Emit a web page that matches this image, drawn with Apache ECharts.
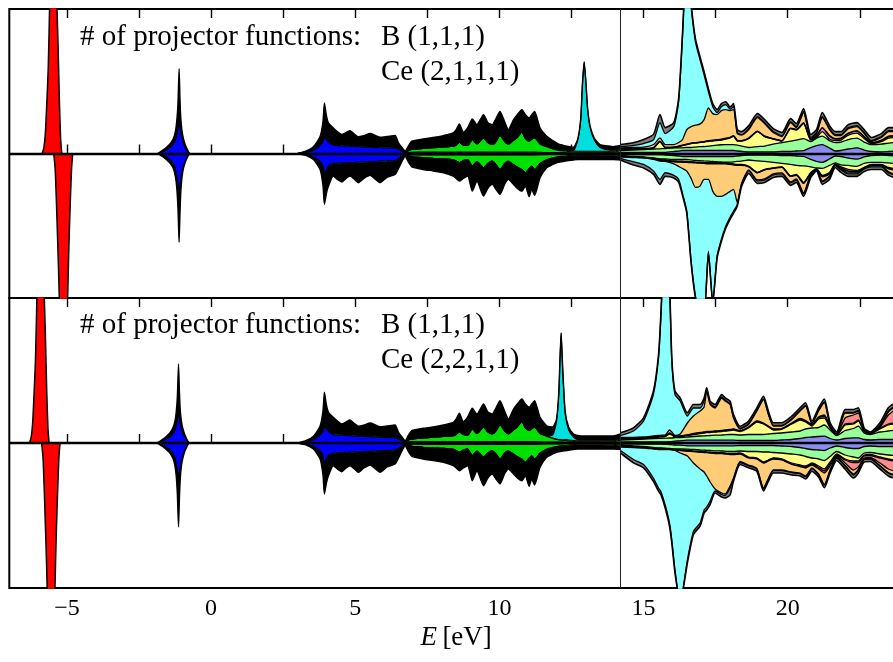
<!DOCTYPE html>
<html><head><meta charset="utf-8">
<script src="https://cdn.jsdelivr.net/npm/echarts@6/dist/echarts.min.js"></script>
<style>html,body{margin:0;padding:0;background:#fff}#c{width:893px;height:662px}</style>
</head><body><div id="c"></div>
<script>
// ---------- axes / labels ----------
const XMIN = -7, XMAX = 24, YLIM = 14.5, EF = 14.2;
const tickValues = [-5, -2.5, 0, 2.5, 5, 7.5, 10, 12.5, 15, 17.5, 20, 22.5];
const labelValues = [-5, 0, 5, 10, 15, 20];
const noteLead = '# of projector functions:';
const noteB = 'B (1,1,1)';
const noteCeTop = 'Ce (2,1,1,1)';
const noteCeBot = 'Ce (2,2,1,1)';

// ---------- semicore red peaks (edge heights) ----------
const topRedUpE = [-5.86,-5.80,-5.75,-5.70,-5.65,-5.60,-5.54,-5.48,-5.42,-5.36,-5.31,-5.26,-5.22,-5.18];
const topRedUp  = [0,0.6,2.0,5.0,8.5,15,26,35,26,16,11,5,1.5,0];
const topRedDnE = [-5.46,-5.41,-5.37,-5.32,-5.27,-5.20,-5.12,-5.04,-4.98,-4.93,-4.88,-4.84,-4.80];
const topRedDn  = [0,1.5,4.5,9,14,25,35,25,15,9,4.5,1.5,0];
const botRedUpE = [-6.30,-6.24,-6.19,-6.14,-6.09,-6.04,-5.98,-5.92,-5.86,-5.80,-5.75,-5.70,-5.66,-5.62];
const botRedUp  = [0,0.6,2.0,5.0,8.5,15,26,35,26,16,11,5,1.5,0];
const botRedDnE = [-5.88,-5.83,-5.79,-5.74,-5.69,-5.63,-5.56,-5.48,-5.42,-5.37,-5.32,-5.28,-5.24];
const botRedDn  = [0,1.5,4.5,9,14,25,35,25,15,9,4.5,1.5,0];

// ---------- semicore blue peak (edge heights) ----------
const topSemiE = [-1.85,-1.75,-1.62,-1.50,-1.40,-1.31,-1.24,-1.19,-1.15,-1.11,-1.08,-1.05,-1.01,-0.96,-0.90,-0.84,-0.78,-0.74];
const topSemiUpTotal = [0,0.2,0.45,0.75,1.05,1.5,2.2,3.3,5.0,8.5,5.5,3.5,2.3,1.5,0.9,0.5,0.15,0];
const topSemiUpBlue  = [0,0.1,0.25,0.45,0.65,0.95,1.3,1.8,2.5,3.1,2.6,2.0,1.5,1.0,0.6,0.3,0.1,0];
const topSemiDnTotal = [0,0.2,0.45,0.75,1.05,1.5,2.3,3.5,5.5,8.9,6.0,3.8,2.4,1.5,0.9,0.5,0.15,0];
const topSemiDnBlue  = [0,0.1,0.25,0.45,0.7,1.0,1.5,2.2,3.0,3.9,3.2,2.5,1.8,1.2,0.7,0.35,0.1,0];
const botSemiE = [-1.87,-1.77,-1.64,-1.52,-1.42,-1.33,-1.26,-1.21,-1.17,-1.13,-1.10,-1.07,-1.03,-0.98,-0.92,-0.86,-0.80,-0.76];
const botSemiUpTotal = [0,0.2,0.45,0.75,1.05,1.5,2.1,3.1,4.7,7.9,5.2,3.3,2.2,1.45,0.9,0.5,0.15,0];
const botSemiUpBlue  = [0,0.1,0.25,0.45,0.65,0.9,1.25,1.7,2.3,2.85,2.4,1.85,1.4,0.95,0.6,0.3,0.1,0];
const botSemiDnTotal = [0,0.2,0.45,0.75,1.05,1.5,2.2,3.3,5.2,8.4,5.6,3.6,2.3,1.5,0.9,0.5,0.15,0];
const botSemiDnBlue  = [0,0.1,0.25,0.45,0.7,1.0,1.4,2.0,2.7,3.4,2.9,2.3,1.7,1.15,0.7,0.35,0.1,0];

// ---------- valence band (layer thicknesses, stacked) ----------
const valE = [3.0,3.3,3.55,3.78,3.88,3.93,4.0,4.07,4.24,4.38,
 4.53,4.68,4.82,4.97,5.11,5.3,5.52,5.7,5.86,6.1,
 6.38,6.5,6.62,6.73,6.85,6.96,7.36,7.7,8.06,8.4,
 8.5,8.61,8.75,8.9,9.06,9.22,9.45,9.6,9.75,9.88,
 10.02,10.18,10.31,10.49,10.62,10.78,10.9,11.03,11.12,11.22,
 11.41,11.64,11.85,11.98,12.06,12.14,12.2,12.28,12.4,12.57,
 12.72,12.82,12.88,12.94,13.0,13.06,13.15,13.3,13.49,13.75,
 13.95,14.2];
const valUpBlue = [0,.1,.33,.8,1.2,1.67,1.4,1.15,.83,.8,
 .78,.75,.72,.7,.67,.65,.62,.6,.58,.55,
 .53,.4,.25,.1,.12,.13,.14,.15,.15,.15,
 .15,.15,.15,.15,.15,.15,.15,.15,.15,.15,
 .15,.15,.15,.15,.15,.15,.15,.15,.15,.15,
 .12,.1,.1,.1,.1,.1,.09,.08,.06,.05,
 .05,.05,.05,.05,.05,.05,.05,.05,.05,.05,
 .05,.1];
const valUpGreen = [0,.05,.12,.12,.12,.13,.12,.12,.12,.12,
 .12,.12,.12,.12,.12,.12,.12,.12,.12,.12,
 .12,.12,.1,.05,.18,.27,.36,.43,.5,.57,
 .7,.98,.7,.65,1.25,.8,1.42,.95,.75,1.05,
 1.65,1.05,.75,1.15,1.45,1.98,1.35,1.08,1.25,1.42,
 .83,.57,.35,.25,.2,.18,.17,.17,.14,.1,
 .07,.07,.07,.07,.07,.07,.07,.07,.07,.07,
 .07,.2];
const valUpOrange = [0,0,0,0,0,0,0,0,0,0,
 0,0,0,0,0,0,0,0,0,0,
 0,0,0,0,0,0,0,0,0,0,
 0,0,0,0,0,0,0,0,0,0,
 .03,.03,.03,.03,.03,.03,.03,.03,.03,.03,
 .03,.05,.05,.05,.05,.05,.05,.1,.1,.1,
 .1,.1,.1,.1,.1,.1,.1,.1,.1,.1,
 .1,.1];
const topValUpCyan = [0,0,0,0,0,0,0,0,0,0,
 0,0,0,0,0,0,0,0,0,0,
 0,0,0,0,0,0,0,0,0,0,
 0,0,0,0,0,0,0,0,0,0,
 0,0,0,0,0,0,0,0,0,0,
 0,0,0,0,0,0,0,0,0,.05,
 1.13,3.13,6.68,8.88,6.88,4.18,2.33,1.08,.38,.15,
 .1,.1];
const topValUpBlack = [0,.1,.22,.78,1.88,3.27,2.28,1.8,1.62,1.28,
 1.0,1.23,1.46,1.13,.88,1.03,1.26,1.08,.93,1.03,
 1.15,.55,.25,.08,.5,.83,.97,1.02,1.15,1.35,
 1.55,1.84,1.28,1.8,2.07,1.95,2.33,2.0,2.0,2.3,
 2.4,1.97,1.47,2.07,2.27,2.24,2.37,2.31,2.47,2.63,
 1.59,1.01,.8,.67,.6,.55,.52,.42,.4,.32,
 .15,.15,.1,.1,.1,.1,.15,.2,.3,.4,
 .37,.3];
const botValUpCyan = [0,0,0,0,0,0,0,0,0,0,
 0,0,0,0,0,0,0,0,0,0,
 0,0,0,0,0,0,0,0,0,0,
 0,0,0,0,0,0,0,0,0,0,
 0,0,0,0,0,0,0,0,0,0,
 0,0,.3,1.7,4.5,10.6,6.7,2.6,1.0,.35,
 .1,.08,.08,.08,.08,.08,.08,.08,.08,.08,
 .08,.1];
const botValUpBlack = [0,.1,.22,.78,1.88,3.27,2.28,1.8,1.62,1.28,
 1.0,1.23,1.46,1.13,.88,1.03,1.26,1.08,.93,1.03,
 1.15,.55,.25,.08,.5,.83,.97,1.02,1.15,1.35,
 1.55,1.84,1.28,1.8,2.07,1.95,2.33,2.0,2.0,2.3,
 2.4,1.97,1.47,2.07,2.27,2.24,2.37,2.31,2.47,2.63,
 1.59,1.01,.8,.3,.25,.1,.2,.25,.3,.3,
 .43,.4,.4,.4,.4,.4,.4,.4,.4,.4,
 .4,.4];
const valDnBlue = [0,.1,.33,.77,1.3,2.1,1.6,1.2,1.0,.97,
 .95,.93,.91,.89,.87,.85,.82,.8,.77,.74,
 .7,.5,.27,.1,.15,.15,.15,.15,.15,.15,
 .15,.15,.15,.15,.15,.15,.15,.15,.15,.15,
 .15,.15,.15,.15,.15,.15,.15,.15,.15,.15,
 .12,.1,.1,.1,.1,.1,.1,.08,.06,.05,
 .05,.05,.05,.05,.05,.05,.05,.05,.05,.05,
 .05,.1];
const valDnGreen = [0,.05,.12,.12,.12,.12,.12,.12,.12,.12,
 .12,.12,.12,.12,.12,.12,.12,.12,.12,.12,
 .12,.12,.1,.05,.1,.18,.27,.33,.37,.47,
 .6,.78,.55,.45,1.12,.65,1.28,.85,.62,.95,
 1.45,.85,.62,.95,1.2,1.45,1.78,1.35,1.12,1.45,
 .88,.5,.32,.25,.2,.18,.17,.17,.14,.1,
 .07,.07,.07,.07,.07,.07,.07,.07,.07,.07,
 .07,.1];
const valDnOrange = [0,0,0,0,0,0,0,0,0,0,
 0,0,0,0,0,0,0,0,0,0,
 0,0,0,0,0,0,0,0,0,0,
 0,0,0,0,0,0,0,0,0,0,
 .03,.03,.03,.03,.03,.03,.03,.03,.03,.03,
 .03,.05,.05,.05,.05,.05,.05,.1,.1,.1,
 .1,.1,.1,.1,.1,.1,.1,.1,.1,.1,
 .1,.1];
const valDnCyan = [0,0,0,0,0,0,0,0,0,0,
 0,0,0,0,0,0,0,0,0,0,
 0,0,0,0,0,0,0,0,0,0,
 0,0,0,0,0,0,0,0,0,0,
 0,0,0,0,0,0,0,0,0,0,
 0,0,0,0,0,0,0,0,0,.03,
 .03,.03,.03,.03,.03,.03,.03,.03,.03,.08,
 .08,.08];
const valDnBlack = [0,.05,.15,.71,1.78,2.88,2.28,1.95,1.15,1.51,
 1.8,1.45,1.24,1.59,1.94,1.53,1.26,1.68,2.04,1.54,
 1.28,.88,.43,.12,.65,1.0,1.18,1.27,1.41,1.65,
 1.75,1.84,1.8,1.67,2.5,1.97,2.84,2.5,2.33,2.5,
 2.47,2.07,1.8,1.97,2.12,2.14,1.31,2.8,2.3,2.57,
 1.4,.78,.63,.53,.53,.51,.48,.42,.42,.37,
 .35,.35,.35,.35,.35,.35,.35,.35,.35,.3,
 .3,.27];

// ---------- conduction band, top panel (band edge heights) ----------
const topConE = [14.2,14.6,15.0,15.35,15.57,15.75,16.05,16.22,16.35,16.5,16.65,16.8,16.95,17.1,17.25,17.4,17.55,17.7,17.85,18.0,18.12,18.25,18.4,
 18.65,18.95,19.2,19.5,19.8,20.1,20.3,20.55,20.8,21.0,21.2,21.45,21.65,21.85,22.1,22.4,22.65,22.9,23.25,23.5,23.75,24.0];
const topUpViolet = [.1,.1,.1,.12,.12,.12,.2,.25,.3,.3,.3,.3,.3,.3,.3,.3,.3,.3,.3,.3,.3,.25,.2,
 .15,.15,.15,.15,.2,.2,.25,.3,.6,.8,.9,.55,.25,.3,.45,.57,.35,.2,.15,.2,.25,.2];
const topUpGreen = [.3,.35,.4,.45,.47,.5,.57,.57,.57,.6,.6,.65,.68,.7,.73,.8,.85,.88,.9,.9,.9,.85,.75,
 .6,.7,.75,.95,1.1,1.25,1.35,1.5,1.2,1.55,1.75,1.3,1.1,1.15,1.4,1.55,1.15,.9,.95,1.05,1.1,1.0];
const topUpYellow = [.4,.42,.45,.55,1.2,.58,.6,.7,.8,.9,1.0,1.05,1.1,1.15,1.23,1.25,1.3,1.35,1.45,1.55,1.73,1.25,1.25,
 1.5,2.2,1.7,1.45,1.25,2.5,2.35,3.0,1.35,1.6,2.2,1.45,1.3,1.35,1.85,2.05,1.5,1.0,1.2,1.55,1.6,1.45];
const topUpMagenta = [.42,.44,.47,.57,1.22,.6,.62,.72,.82,.92,1.02,1.07,1.12,1.17,1.27,1.3,1.35,1.4,1.5,1.6,1.77,1.3,1.28,
 1.52,2.22,1.72,1.47,1.27,2.52,2.4,3.05,1.4,1.75,2.55,1.75,1.45,1.5,2.0,2.25,1.65,1.05,1.3,1.7,1.75,1.6];
const topUpSalmon = [.45,.46,.5,.6,1.25,.62,.65,.75,.85,.95,1.05,1.1,1.15,1.2,1.3,1.33,1.38,1.43,1.53,1.63,1.8,1.33,1.3,
 1.55,2.25,1.75,1.5,1.3,2.55,2.42,3.1,1.42,1.8,2.6,1.8,1.5,1.55,2.05,2.3,1.7,1.07,1.35,1.75,1.8,1.65];
const topUpOrange = [.55,.6,.63,.9,1.57,.9,.9,1.1,1.4,2.4,2.7,2.85,2.95,3.4,4.57,4.0,3.9,4.3,4.4,4.3,4.4,2.0,1.85,
 2.4,3.6,3.0,2.1,1.7,3.1,2.6,4.1,1.5,2.0,3.6,2.4,1.8,1.8,2.5,2.7,2.0,1.2,1.6,2.2,2.2,1.9];
const topUpCyan = [.7,.8,1.0,1.4,3.1,2.0,2.7,5.3,11.7,19.7,14.7,11.2,9.5,7.9,6.2,4.7,4.1,4.7,4.9,4.45,4.7,2.1,1.9,
 2.5,3.7,3.1,2.2,1.8,3.2,2.7,4.2,1.6,2.1,3.7,2.5,1.9,1.9,2.6,2.8,2.1,1.3,1.7,2.3,2.3,2.0];
const topUpGray = [.9,1.05,1.4,1.95,3.9,2.6,3.1,5.6,12,20,15,11.5,9.8,8.2,6.5,5.0,4.4,5.0,5.2,4.65,5.0,2.4,2.2,
 2.8,4.0,3.4,2.5,2.1,3.5,3.0,4.5,1.9,2.4,4.1,2.8,2.2,2.2,2.9,3.1,2.4,1.6,2.0,2.6,2.6,2.3];
const topDnViolet = [.1,.1,.1,.12,.12,.15,.2,.25,.3,.3,.3,.3,.3,.3,.3,.3,.3,.3,.3,.3,.3,.25,.2,
 .15,.15,.15,.15,.2,.2,.25,.3,.6,.8,.9,.55,.25,.3,.45,.57,.35,.2,.15,.2,.25,.2];
const topDnGreen = [.2,.3,.35,.45,.53,.55,.6,.6,.6,.6,.65,.7,.72,.75,.77,.8,.83,.85,.87,.87,.85,.8,.77,
 .65,.75,.8,.9,1.0,1.1,1.2,1.25,1.35,1.45,1.5,1.2,.95,1.15,1.2,1.3,1.0,.9,.9,.95,1.0,1.0];
const topDnYellow = [.25,.33,.38,.5,.6,.65,.75,.77,.78,.8,.82,.85,.87,.9,.93,.93,.93,.93,.93,1.0,1.05,1.1,1.1,
 1.3,1.9,1.6,1.45,1.35,2.25,2.1,2.9,1.9,1.52,2.2,1.9,1.05,1.35,1.6,1.7,1.4,1.1,1.1,1.4,1.5,1.4];
const topDnMagenta = [.27,.35,.4,.52,.65,.7,.8,.82,.83,.85,.87,.9,.92,.95,.98,.98,.98,.98,.98,1.05,1.1,1.15,1.15,
 1.32,1.92,1.62,1.47,1.37,2.27,2.15,2.95,1.95,1.56,2.3,2.0,1.08,1.45,1.75,1.8,1.42,1.15,1.15,1.5,1.6,1.5];
const topDnSalmon = [.3,.37,.41,.54,.7,.72,.85,.87,.88,.9,.92,.95,.97,1.0,1.03,1.03,1.03,1.03,1.03,1.1,1.15,1.2,1.2,
 1.35,1.95,1.65,1.5,1.4,2.3,2.2,3.0,1.98,1.58,2.35,2.05,1.1,1.48,1.8,1.85,1.44,1.18,1.2,1.55,1.65,1.55];
const topDnOrange = [.33,.4,.43,.6,.77,.8,1.05,1.3,1.5,1.77,2.5,3.4,3.3,2.6,2.6,3.8,4.3,4.3,4.1,3.8,3.6,4.9,3.0,
 1.65,2.65,2.55,2.05,1.95,2.85,2.55,3.95,2.05,1.6,2.75,2.25,1.15,1.55,1.95,1.95,1.45,1.25,1.25,1.85,2.05,1.95];
const topDnCyan = [.5,.8,1.1,1.77,2.6,1.93,2.2,2.6,4.0,5.8,10.8,14.3,16,16,9.8,15,10.3,8.6,7.3,6.4,5.8,5.1,3.1,
 1.75,2.75,2.65,2.15,2.05,2.95,2.65,4.05,2.15,1.65,2.85,2.35,1.2,1.65,2.05,2.05,1.55,1.35,1.35,1.95,2.15,2.05];
const topDnGray = [.65,1.1,1.45,2.1,3.1,2.3,2.45,2.9,4.2,6.0,11.0,14.5,16,16,10.0,15,10.5,8.8,7.5,6.6,6.0,5.3,3.3,
 2.0,3.0,2.9,2.4,2.3,3.2,2.9,4.3,2.4,1.75,3.1,2.6,1.4,1.9,2.3,2.3,1.8,1.6,1.6,2.2,2.4,2.3];

// ---------- conduction band, bottom panel (band edge heights) ----------
const botConE = [14.2,14.65,15.0,15.34,15.52,15.6,15.75,15.9,15.98,16.09,
 16.27,16.52,16.73,16.96,17.1,17.19,17.31,17.48,17.71,17.83,
 18.0,18.12,18.35,18.64,18.93,19.16,19.33,19.5,19.79,20.14,
 20.43,20.62,20.84,21.07,21.27,21.47,21.7,21.99,22.28,22.45,
 22.65,22.86,23.2,23.49,23.75,24.0];
const botUpViolet = [.1,.1,.1,.12,.12,.12,.12,.13,.15,.18, .22,.28,.28,.28,.28,.28,.28,.28,.28,.28,
 .28,.28,.25,.25,.25,.25,.25,.25,.3,.35, .45,.55,.6,.65,.68,.45,.3,.45,.52,.52, .35,.3,.35,.35,.35,.35];
const botUpGreen = [.3,.35,.4,.45,.47,.47,.48,.5,.5,.55, .55,.6,.65,.7,.72,.73,.75,.78,.8,.82,
 .85,.85,.8,.85,.85,.85,.9,.95,1.0,1.1, 1.2,1.4,1.5,1.55,1.8,1.3,.75,1.25,1.45,1.68, 1.0,.85,1.1,1.2,1.3,1.25];
const botUpYellow = [.4,.42,.45,.55,.6,.62,.65,.9,.8,.62, .65,.75,.85,.95,1.0,1.05,1.05,1.1,1.15,1.2,
 1.25,1.3,1.15,1.5,2.1,1.9,1.6,1.3,1.35,1.9, 2.3,2.1,1.7,2.4,2.5,1.5,.8,1.8,1.9,2.2, 1.15,.9,1.4,1.8,1.9,1.8];
const botUpMagenta = [.42,.44,.47,.57,.62,.64,.67,.95,.85,.65, .68,.78,.9,1.0,1.05,1.1,1.1,1.15,1.2,1.25,
 1.3,1.35,1.2,1.55,2.15,1.95,1.65,1.35,1.4,1.95, 2.4,2.2,1.8,2.5,2.7,1.6,.82,1.9,2.0,2.3, 1.2,.92,1.5,1.9,2.0,1.9];
const botUpSalmon = [.45,.46,.5,.6,.65,.67,.7,1.0,.9,.68, .7,.8,.95,1.05,1.1,1.15,1.15,1.2,1.25,1.3,
 1.35,1.4,1.25,1.6,2.2,2.0,1.7,1.4,1.45,2.0, 2.45,2.25,1.85,2.6,2.8,1.65,.85,2.5,2.8,3.0, 1.25,.94,1.6,2.8,3.3,2.9];
const botUpOrange = [.55,.55,.6,.7,.75,.77,.8,1.3,1.1,.75, .9,2.0,2.7,3.2,3.6,5.18,3.85,3.5,4.5,4.2,
 3.85,2.5,1.4,1.85,3.2,4.35,2.85,1.7,1.7,2.35, 3.2,3.7,1.9,3.2,4.05,1.75,.88,3.0,3.0,3.2, 1.27,.95,1.7,3.1,3.6,3.1];
const botUpCyan = [.75,1.2,2.2,4.85,8.5,12.5,21.7,15.7,8.2,4.85, 4.2,2.7,3.5,3.5,4.2,5.3,3.95,3.6,4.6,4.3,
 3.95,2.6,1.45,1.92,3.27,4.42,2.92,1.77,1.77,2.42, 3.27,3.77,1.95,3.27,4.12,1.8,.9,3.05,3.05,3.25, 1.3,.97,1.75,3.2,3.7,3.2];
const botUpGray = [1.02,1.52,2.52,5.18,8.85,12.85,22,16,8.5,5.18, 4.52,3.02,3.85,3.85,4.5,5.52,4.18,3.85,4.85,4.52,
 4.18,2.85,1.68,2.18,3.52,4.68,3.18,2.02,2.02,2.68, 3.52,4.02,2.18,3.52,4.4,2.02,1.1,3.35,3.35,3.52, 1.5,1.1,2.02,3.52,4.0,3.5];
const botDnViolet = [.1,.1,.1,.12,.12,.12,.13,.15,.17,.2, .22,.28,.28,.28,.28,.28,.28,.28,.28,.28,
 .28,.28,.25,.25,.25,.25,.25,.25,.3,.35, .45,.55,.65,.7,.75,.5,.3,.45,.55,.55, .35,.3,.35,.35,.35,.35];
const botDnGreen = [.2,.3,.35,.45,.5,.5,.52,.55,.57,.6, .6,.62,.65,.7,.72,.73,.75,.78,.8,.82,
 .85,.85,.8,.85,.85,.9,.9,.95,1.0,1.1, 1.2,1.35,1.5,1.6,1.75,1.35,.85,1.2,1.4,1.5, 1.0,.95,1.1,1.2,1.25,1.2];
const botDnYellow = [.25,.33,.38,.5,.55,.55,.58,.6,.62,.65, .7,.75,.8,.85,.88,.9,.92,.95,.97,1.0,
 1.05,1.05,1.0,1.4,1.5,1.9,1.7,1.5,1.6,2.0, 2.2,2.3,2.0,2.3,2.6,1.9,1.1,1.6,1.8,1.8, 1.2,1.15,1.4,1.6,1.7,1.6];
const botDnMagenta = [.27,.35,.4,.52,.57,.57,.6,.62,.64,.67, .72,.78,.83,.88,.9,.92,.95,1.0,1.02,1.05,
 1.1,1.1,1.05,1.45,1.55,1.95,1.75,1.55,1.65,2.1, 2.3,2.4,2.1,2.45,2.8,2.1,1.2,1.7,1.95,1.95, 1.3,1.25,1.5,1.7,1.8,1.7];
const botDnSalmon = [.3,.37,.42,.54,.6,.6,.62,.64,.66,.7, .75,.82,.87,.92,.95,.97,1.0,1.05,1.07,1.1,
 1.15,1.15,1.1,1.5,1.6,2.0,1.8,1.6,1.7,2.15, 2.35,2.5,2.2,2.6,3.0,2.3,1.3,2.0,2.7,2.4, 1.5,1.45,2.0,2.6,2.8,2.6];
const botDnOrange = [.4,.45,.5,.6,.65,.65,.65,.65,.68,.75, 1.0,1.3,2.0,2.6,2.9,3.3,3.9,4.6,5.0,5.1,
 4.3,3.5,1.85,2.2,2.55,4.5,3.55,2.7,2.7,2.9, 3.0,3.3,2.5,3.1,4.15,2.7,1.45,2.25,3.1,2.65, 1.6,1.55,2.25,2.95,3.15,2.95];
const botDnCyan = [.75,1.65,2.15,3.5,4.5,4.85,6.2,8.0,9.7,12.7, 16,11.7,8.85,8.0,6.7,6.4,5.8,4.8,5.15,5.25,
 4.5,3.6,1.95,2.28,2.62,4.58,3.62,2.77,2.77,2.97, 3.07,3.37,2.57,3.17,4.22,2.77,1.5,2.3,3.2,2.72, 1.65,1.6,2.32,3.02,3.22,3.02];
const botDnGray = [1.0,1.98,2.48,3.82,4.82,5.15,6.5,8.3,10.0,13.0, 16,12.0,9.15,8.32,7.0,6.7,6.15,5.0,5.4,5.5,
 5.2,3.82,2.15,2.48,2.82,4.8,3.82,3.0,3.0,3.2, 3.3,3.6,2.82,3.4,4.48,3.0,1.75,2.6,3.5,3.0, 1.9,1.85,2.6,3.3,3.5,3.3];

// ---------- styles ----------
const occFill = ['#0000ff', '#00e000', '#ff9900', '#00dede', '#000000'];
const unoccFill = ['#8c8cf0', '#99ff99', '#ffff88', '#ff88ff', '#ff8c8c', '#ffcc77', '#8cffff', '#808080'];
const SERIF = '"Liberation Serif", "DejaVu Serif", serif';

function check(name, xs, arrs) {
  arrs.forEach((a, i) => { if (a.length !== xs.length) throw new Error(name + ' layer ' + i + ' has ' + a.length + ' vs ' + xs.length); });
}
function cum(layers) {
  const out = []; let acc = layers[0].map(() => 0);
  layers.forEach(l => { acc = acc.map((a, i) => a + l[i]); out.push(acc); });
  return out;
}
const series = [];
function band(name, g, xs, edges, fills, sign, lw) {
  check(name, xs, edges);
  for (let k = edges.length - 1; k >= 0; k--) {
    series.push({
      type: 'line', xAxisIndex: 2 * g, yAxisIndex: g, silent: true, animation: false,
      showSymbol: false, symbol: 'none', smooth: 0.2, clip: true,
      data: xs.map((x, i) => [x, sign * edges[k][i]]),
      lineStyle: { color: '#000', width: (k === edges.length - 1 ? 0.3 : 0) + (lw || 1.1) },
      areaStyle: { color: fills[k], opacity: 1 }
    });
  }
}
// top panel
band('tRu', 0, topRedUpE, [topRedUp], ['#ff0000'], 1, 1.2);
band('tRd', 0, topRedDnE, [topRedDn], ['#ff0000'], -1, 1.2);
band('tSu', 0, topSemiE, [topSemiUpBlue, topSemiUpTotal], ['#0000ff', '#000000'], 1);
band('tSd', 0, topSemiE, [topSemiDnBlue, topSemiDnTotal], ['#0000ff', '#000000'], -1);
band('tVu', 0, valE, cum([valUpBlue, valUpGreen, valUpOrange, topValUpCyan, topValUpBlack]), occFill, 1);
band('tVd', 0, valE, cum([valDnBlue, valDnGreen, valDnOrange, valDnCyan, valDnBlack]), occFill, -1);
band('tCu', 0, topConE, [topUpViolet, topUpGreen, topUpYellow, topUpMagenta, topUpSalmon, topUpOrange, topUpCyan, topUpGray], unoccFill, 1, 1.3);
band('tCd', 0, topConE, [topDnViolet, topDnGreen, topDnYellow, topDnMagenta, topDnSalmon, topDnOrange, topDnCyan, topDnGray], unoccFill, -1, 1.3);
// bottom panel
band('bRu', 1, botRedUpE, [botRedUp], ['#ff0000'], 1, 1.2);
band('bRd', 1, botRedDnE, [botRedDn], ['#ff0000'], -1, 1.2);
band('bSu', 1, botSemiE, [botSemiUpBlue, botSemiUpTotal], ['#0000ff', '#000000'], 1);
band('bSd', 1, botSemiE, [botSemiDnBlue, botSemiDnTotal], ['#0000ff', '#000000'], -1);
band('bVu', 1, valE, cum([valUpBlue, valUpGreen, valUpOrange, botValUpCyan, botValUpBlack]), occFill, 1);
band('bVd', 1, valE, cum([valDnBlue, valDnGreen, valDnOrange, valDnCyan, valDnBlack]), occFill, -1);
band('bCu', 1, botConE, [botUpViolet, botUpGreen, botUpYellow, botUpMagenta, botUpSalmon, botUpOrange, botUpCyan, botUpGray], unoccFill, 1, 1.3);
band('bCd', 1, botConE, [botDnViolet, botDnGreen, botDnYellow, botDnMagenta, botDnSalmon, botDnOrange, botDnCyan, botDnGray], unoccFill, -1, 1.3);
// zero line and Fermi level
[0, 1].forEach(g => series.push({
  type: 'line', xAxisIndex: 2 * g, yAxisIndex: g, data: [], silent: true, animation: false, z: 10,
  markLine: {
    silent: true, symbol: 'none', animation: false, label: { show: false },
    data: [
      { yAxis: 0, lineStyle: { color: '#000', width: 2.4, type: 'solid' } },
      { xAxis: EF, lineStyle: { color: '#222', width: 1, type: 'solid' } }
    ]
  }
}));

const PX = 28.83;
const gridW = (XMAX - XMIN) * PX;
const grids = [
  { left: 9.3, top: 9, width: gridW, height: 289 },
  { left: 9.3, top: 298, width: gridW, height: 290 }
].map(g => Object.assign(g, { show: true, borderColor: '#000', borderWidth: 2, backgroundColor: 'transparent', containLabel: false, outerBoundsMode: 'none' }));

const fmt = v => (v < 0 ? '\u2212' + Math.abs(v) : String(v));
const xAxes = [];
[0, 1].forEach(g => {
  ['bottom', 'top'].forEach(pos => {
    const labelled = g === 1 && pos === 'bottom';
    xAxes.push({
      gridIndex: g, type: 'value', position: pos, min: XMIN, max: XMAX,
      axisLine: { show: false }, splitLine: { show: false },
      axisTick: { show: true, inside: true, length: 9, lineStyle: { color: '#000', width: 1.4 }, customValues: tickValues },
      axisLabel: labelled ? { show: true, customValues: labelValues, formatter: fmt, margin: 9, color: '#000', fontFamily: SERIF, fontSize: 24 } : { show: false },
      name: labelled ? '{it|E}\u2009[eV]' : '',
      nameLocation: 'middle', nameGap: 36,
      nameTextStyle: { color: '#000', fontFamily: SERIF, fontSize: 27, rich: { it: { fontStyle: 'italic', fontFamily: SERIF, fontSize: 27, color: '#000' } } }
    });
  });
});
const yAxes = [0, 1].map(g => ({
  gridIndex: g, type: 'value', min: -YLIM, max: YLIM,
  axisLine: { show: false }, axisTick: { show: false }, axisLabel: { show: false }, splitLine: { show: false }
}));

function note(text, x, y) {
  return { type: 'text', x: x, y: y, z: 100, silent: true,
    style: { text: text, fill: '#000', font: '29px ' + SERIF, align: 'left', verticalAlign: 'middle' } };
}
const chart = echarts.init(document.getElementById('c'), null, { renderer: 'canvas' });
chart.setOption({
  animation: false, backgroundColor: '#fff',
  grid: grids, xAxis: xAxes, yAxis: yAxes, series: series,
  graphic: [
    note(noteLead, 80, 37.5), note(noteB, 381, 37.5), note(noteCeTop, 381, 72.5),
    note(noteLead, 80, 325), note(noteB, 381, 325), note(noteCeBot, 381, 360)
  ]
});
</script>
</body></html>
